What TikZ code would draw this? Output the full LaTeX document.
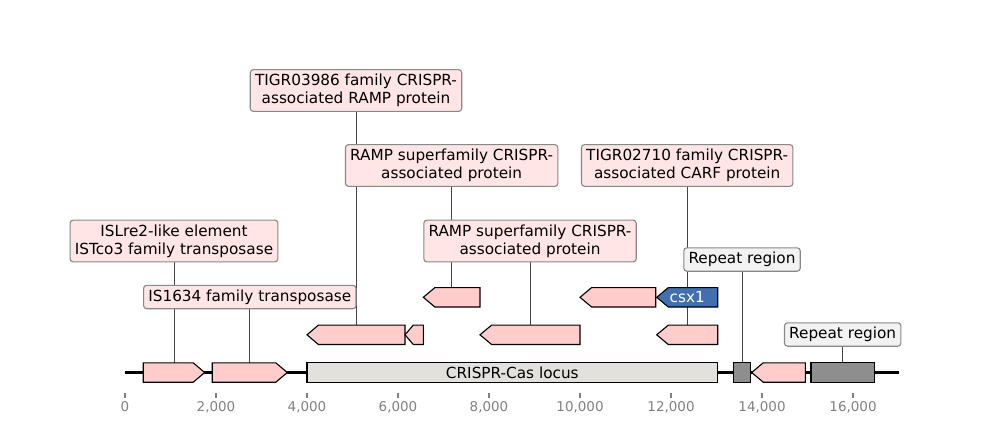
\documentclass[tikz,border=0pt]{standalone}
\usepackage{fontspec}
\setmainfont{DejaVu Sans}
\usetikzlibrary{backgrounds}
\definecolor{featpink}{HTML}{FFCCCC}
\definecolor{labpink}{HTML}{FFE5E6}
\definecolor{repgray}{HTML}{F2F2F2}
\definecolor{featgray}{HTML}{8E8E8E}
\definecolor{locusgray}{HTML}{E2E1DD}
\definecolor{featblue}{HTML}{4270AE}
\definecolor{labborder}{HTML}{888888}
\definecolor{connc}{HTML}{444444}
\definecolor{tickc}{HTML}{808080}
% right arrow: name, x1, x2, y, style
\newcommand\featR[5]{%
  \draw[#5] (#2,#4-9.7) -- (#3-11.5,#4-9.7) -- (#3,#4) -- (#3-11.5,#4+9.7) -- (#2,#4+9.7) -- cycle;
  \coordinate (#1) at ({(#2+#3)/2},#4-9.7);}
% left arrow: name, x1, x2, y, style, head
\newcommand\featL[6]{%
  \draw[#5] (#3,#4-9.7) -- (#2+#6,#4-9.7) -- (#2,#4) -- (#2+#6,#4+9.7) -- (#3,#4+9.7) -- cycle;
  \coordinate (#1) at ({(#2+#3)/2},#4-9.7);}
% box: name, x1, x2, y, style
\newcommand\featB[5]{%
  \draw[#5] (#2,#4-9.7) rectangle (#3,#4+9.7);
  \coordinate (#1) at ({(#2+#3)/2},#4-9.7);}
\tikzset{
  feat/.style={draw=black, line width=0.8pt, fill=featpink, line join=miter},
  lab/.style={draw=labborder, fill=labpink, rounded corners=2.2pt, line width=0.8pt,
    align=center, font=\fontsize{11}{13.2}\selectfont, inner xsep=3.4pt, inner ysep=3.1pt},
  reg/.style={lab, fill=repgray},
  conn/.style={draw=connc, line width=0.65pt},
  ticklab/.style={text=tickc, font=\fontsize{9.7}{11}\selectfont, anchor=base},
}
\begin{document}
\begin{tikzpicture}[x=0.72pt, y=-0.72pt]
\useasboundingbox (0,0) rectangle (1000,440);
% baseline
\coordinate (b0) at (125,372.5);
\coordinate (b1) at (898.5,372.5);
\draw[line width=1.5pt] (b0) -- (b1);
% row 0
\featR{f1}{143.3}{204.7}{372.5}{feat}
\featR{f2}{212.3}{287.3}{372.5}{feat}
\featB{locus}{307}{717.7}{372.5}{feat, fill=locusgray}
\node[font=\fontsize{11}{13.2}\selectfont] (locustext) at (512.3,372.5) {CRISPR-Cas locus};
\featB{g1}{733.3}{750.7}{372.5}{feat, fill=featgray}
\featL{f3}{751.7}{805.3}{372.5}{feat}{11.5}
\featB{g2}{811}{874.3}{372.5}{feat, fill=featgray}
% row 1
\featL{f4}{307}{405}{334.8}{feat}{11.4}
\featL{f5}{405}{423.3}{334.8}{feat}{8.3}
\featL{f6}{480}{580}{334.8}{feat}{11.6}
\featL{f7}{656.7}{717.7}{334.8}{feat}{11.6}
% row 2
\featL{f8}{423.3}{480}{297.3}{feat}{11.6}
\featL{f9}{580}{655.7}{297.3}{feat}{11.6}
\featL{fcsx}{656.7}{717.7}{297.3}{feat, fill=featblue}{11.6}
\node[font=\fontsize{11}{13.2}\selectfont, text=white] (csx) at (687.2,297.3) {csx1};
% axis ticks
\foreach \v/\t in {0/0,2000/{2,000},4000/{4,000},6000/{6,000},8000/{8,000},10000/{10,000},12000/{12,000},14000/{14,000},16000/{16,000}}{
  \draw[tickc, line width=0.8pt] ({125+\v*0.0455},393) -- ({125+\v*0.0455},397.5);
  \node[ticklab] at ({125+\v*0.0455},411.5) {\t};
}
% labels
\node[lab] (l1) at (f1 |- 0,241) {ISLre2-like element\\ISTco3 family transposase};
\node[lab] (l2) at (f2 |- 0,297) {IS1634 family transposase};
\node[lab] (l3) at (f4 |- 0,90.5) {TIGR03986 family CRISPR-\\associated RAMP protein};
\node[lab] (l4) at (f8 |- 0,165.5) {RAMP superfamily CRISPR-\\associated protein};
\node[lab] (l5) at (f6 |- 0,241) {RAMP superfamily CRISPR-\\associated protein};
\node[lab] (l6) at (f7 |- 0,165.5) {TIGR02710 family CRISPR-\\associated CARF protein};
\node[reg] (l7) at (g1 |- 0,259.5) {Repeat region};
\node[reg] (l8) at (g2 |- 0,334.5) {Repeat region};
% connectors
\begin{scope}[on background layer]
\draw[conn] (l1.center) -- (f1);
\draw[conn] (l2.center) -- (f2);
\draw[conn] (l3.center) -- (f4);
\draw[conn] (l4.center) -- (f8);
\draw[conn] (l5.center) -- (f6);
\draw[conn] (l6.center) -- (f7);
\draw[conn] (l7.center) -- (g1);
\draw[conn] (l8.center) -- (g2);
\end{scope}
\end{tikzpicture}
\end{document}
